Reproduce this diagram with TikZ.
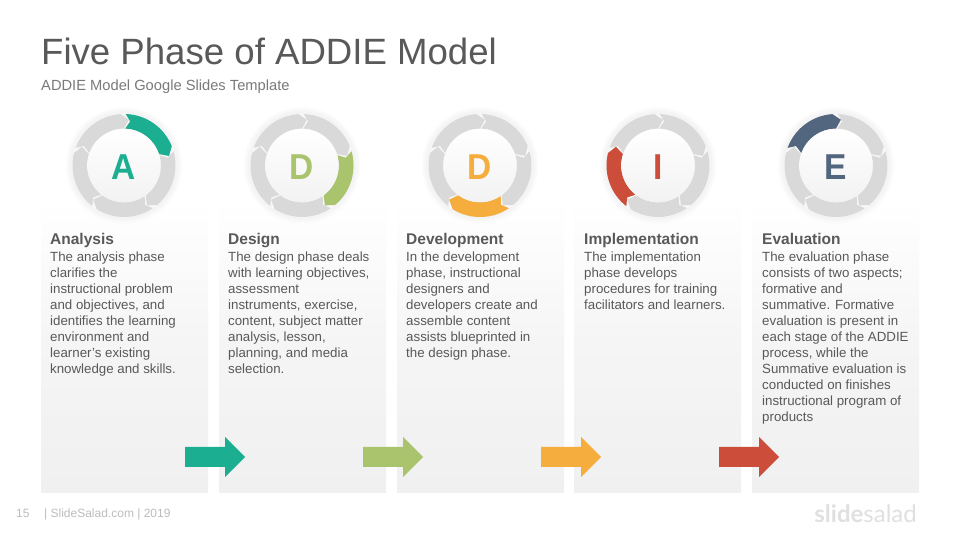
\documentclass[tikz,border=0pt]{standalone}
\usepackage{fontspec}
\setmainfont{Liberation Sans}
\newfontfamily\logofont{Lato}
\usepackage{tikz}
\definecolor{inkgray}{HTML}{595959}
\definecolor{ringgray}{HTML}{D9D9D9}
\definecolor{cardgray}{HTML}{F0F0F0}
\definecolor{footgray}{HTML}{BDBDBD}
\definecolor{phaseteal}{HTML}{1BAE91}
\definecolor{phasegreen}{HTML}{A9C46C}
\definecolor{phaseorange}{HTML}{F5AE3D}
\definecolor{phasered}{HTML}{CC4E3A}
\definecolor{phasenavy}{HTML}{52677F}
\tikzset{
  headtext/.style={anchor=base west, inner sep=0pt, text=inkgray, font=\fontsize{15.5}{16}\selectfont\bfseries},
  bodytext/.style={anchor=north west, inner sep=0pt, text=inkgray, align=left, font=\fontsize{13.3}{16}\selectfont},
  card/.style={top color=white, bottom color=cardgray, middle color=white!96!black, draw=none},
}
% one chevron of the ring, clockwise from angle #1
\newcommand{\ringseg}[2]{%
  \fill[#2] (#1:51.5) arc[start angle=#1, end angle=#1-66, radius=51.5]
    -- (#1-76:46) -- (#1-70:37) arc[start angle=#1-70, end angle=#1, radius=37]
    -- (#1-6:44.5) -- cycle;}
\begin{document}
\begin{tikzpicture}[x=1pt, y=1pt]
  \useasboundingbox (0,0) rectangle (960,540);
  \fill[white] (0,0) rectangle (960,540);
  \node (title) [anchor=base west, inner sep=0pt, text=inkgray, font=\fontsize{36.6}{40}\selectfont] at (41,475) {Five Phase of ADDIE Model};
  \node (subtitle) [anchor=base west, inner sep=0pt, text=inkgray!80, font=\fontsize{14.7}{16}\selectfont] at (41,449) {ADDIE Model Google Slides Template};
  % cards, rings and letters
  \foreach \cx/\cl/\col/\ltr/\first [count=\i] in {124/41/phaseteal/A/88, 302/219/phasegreen/D/16, 480/397/phaseorange/D/-56, 658/574/phasered/I/-128, 836/752/phasenavy/E/160} {
    \fill[card] (\cl,47) rectangle (\cl+167,340);
    \begin{scope}[shift={(\cx,374.5)}]
      \fill[black!1.5] (0,0) circle [radius=58];
      \fill[black!3] (0,0) circle [radius=56];
      \fill[black!4.5] (0,0) circle [radius=54];
      \fill[white!97!black] (0,0) circle [radius=52];
      \foreach \k in {0,...,4} {
        \pgfmathsetmacro{\ang}{\first-72*\k}
        \ringseg{\ang}{ringgray}
      }
      \ringseg{\first}{\col}
      \shade[top color=white, bottom color=black!5] (0,0) circle [radius=36.5];
      \node (letter\i) [inner sep=0pt, xscale=0.93, text=\col, font=\fontsize{36}{36}\selectfont\bfseries] at (0,-1.5) {\ltr};
    \end{scope}
  }
  % arrows between the cards
  \foreach \ax/\col in {185/phaseteal, 363/phasegreen, 541/phaseorange, 719/phasered} {
    \fill[\col] (\ax,93) -- (\ax+40,93) -- (\ax+40,103) -- (\ax+60,83) -- (\ax+40,63) -- (\ax+40,73) -- (\ax,73) -- cycle;
  }
  \node (head1) [headtext] at (50,295) {Analysis};
  \node (body1) [bodytext] at (50,288) {The analysis phase\\clarifies the\\instructional problem\\and objectives, and\\identifies the learning\\environment and\\learner’s existing\\knowledge and skills.};
  \node (head2) [headtext] at (228,295) {Design};
  \node (body2) [bodytext] at (228,288) {The design phase deals\\with learning objectives,\\assessment\\instruments, exercise,\\content, subject matter\\analysis, lesson,\\planning, and media\\selection.};
  \node (head3) [headtext] at (406,295) {Development};
  \node (body3) [bodytext] at (406,288) {In the development\\phase, instructional\\designers and\\developers create and\\assemble content\\assists blueprinted in\\the design phase.};
  \node (head4) [headtext] at (584,295) {Implementation};
  \node (body4) [bodytext] at (584,288) {The implementation\\phase develops\\procedures for training\\facilitators and learners.};
  \node (head5) [headtext] at (762,295) {Evaluation};
  \node (body5) [bodytext] at (762,288) {The evaluation phase\\consists of two aspects;\\formative and\\summative. Formative\\evaluation is present in\\each stage of the ADDIE\\process, while the\\Summative evaluation is\\conducted on finishes\\instructional program of\\products};
  % footer
  \node (pagenum) [anchor=base west, inner sep=0pt, text=footgray, font=\fontsize{12}{14}\selectfont] at (16,22.5) {15};
  \node (footer) [anchor=base west, inner sep=0pt, text=footgray, font=\fontsize{12}{14}\selectfont] at (44,22.5) {| SlideSalad.com | 2019};
  \node (logo) [anchor=base east, inner sep=0pt, text=black!12, font=\fontsize{24}{26}\logofont] at (917,17) {\textbf{slide}salad};
\end{tikzpicture}
\end{document}
